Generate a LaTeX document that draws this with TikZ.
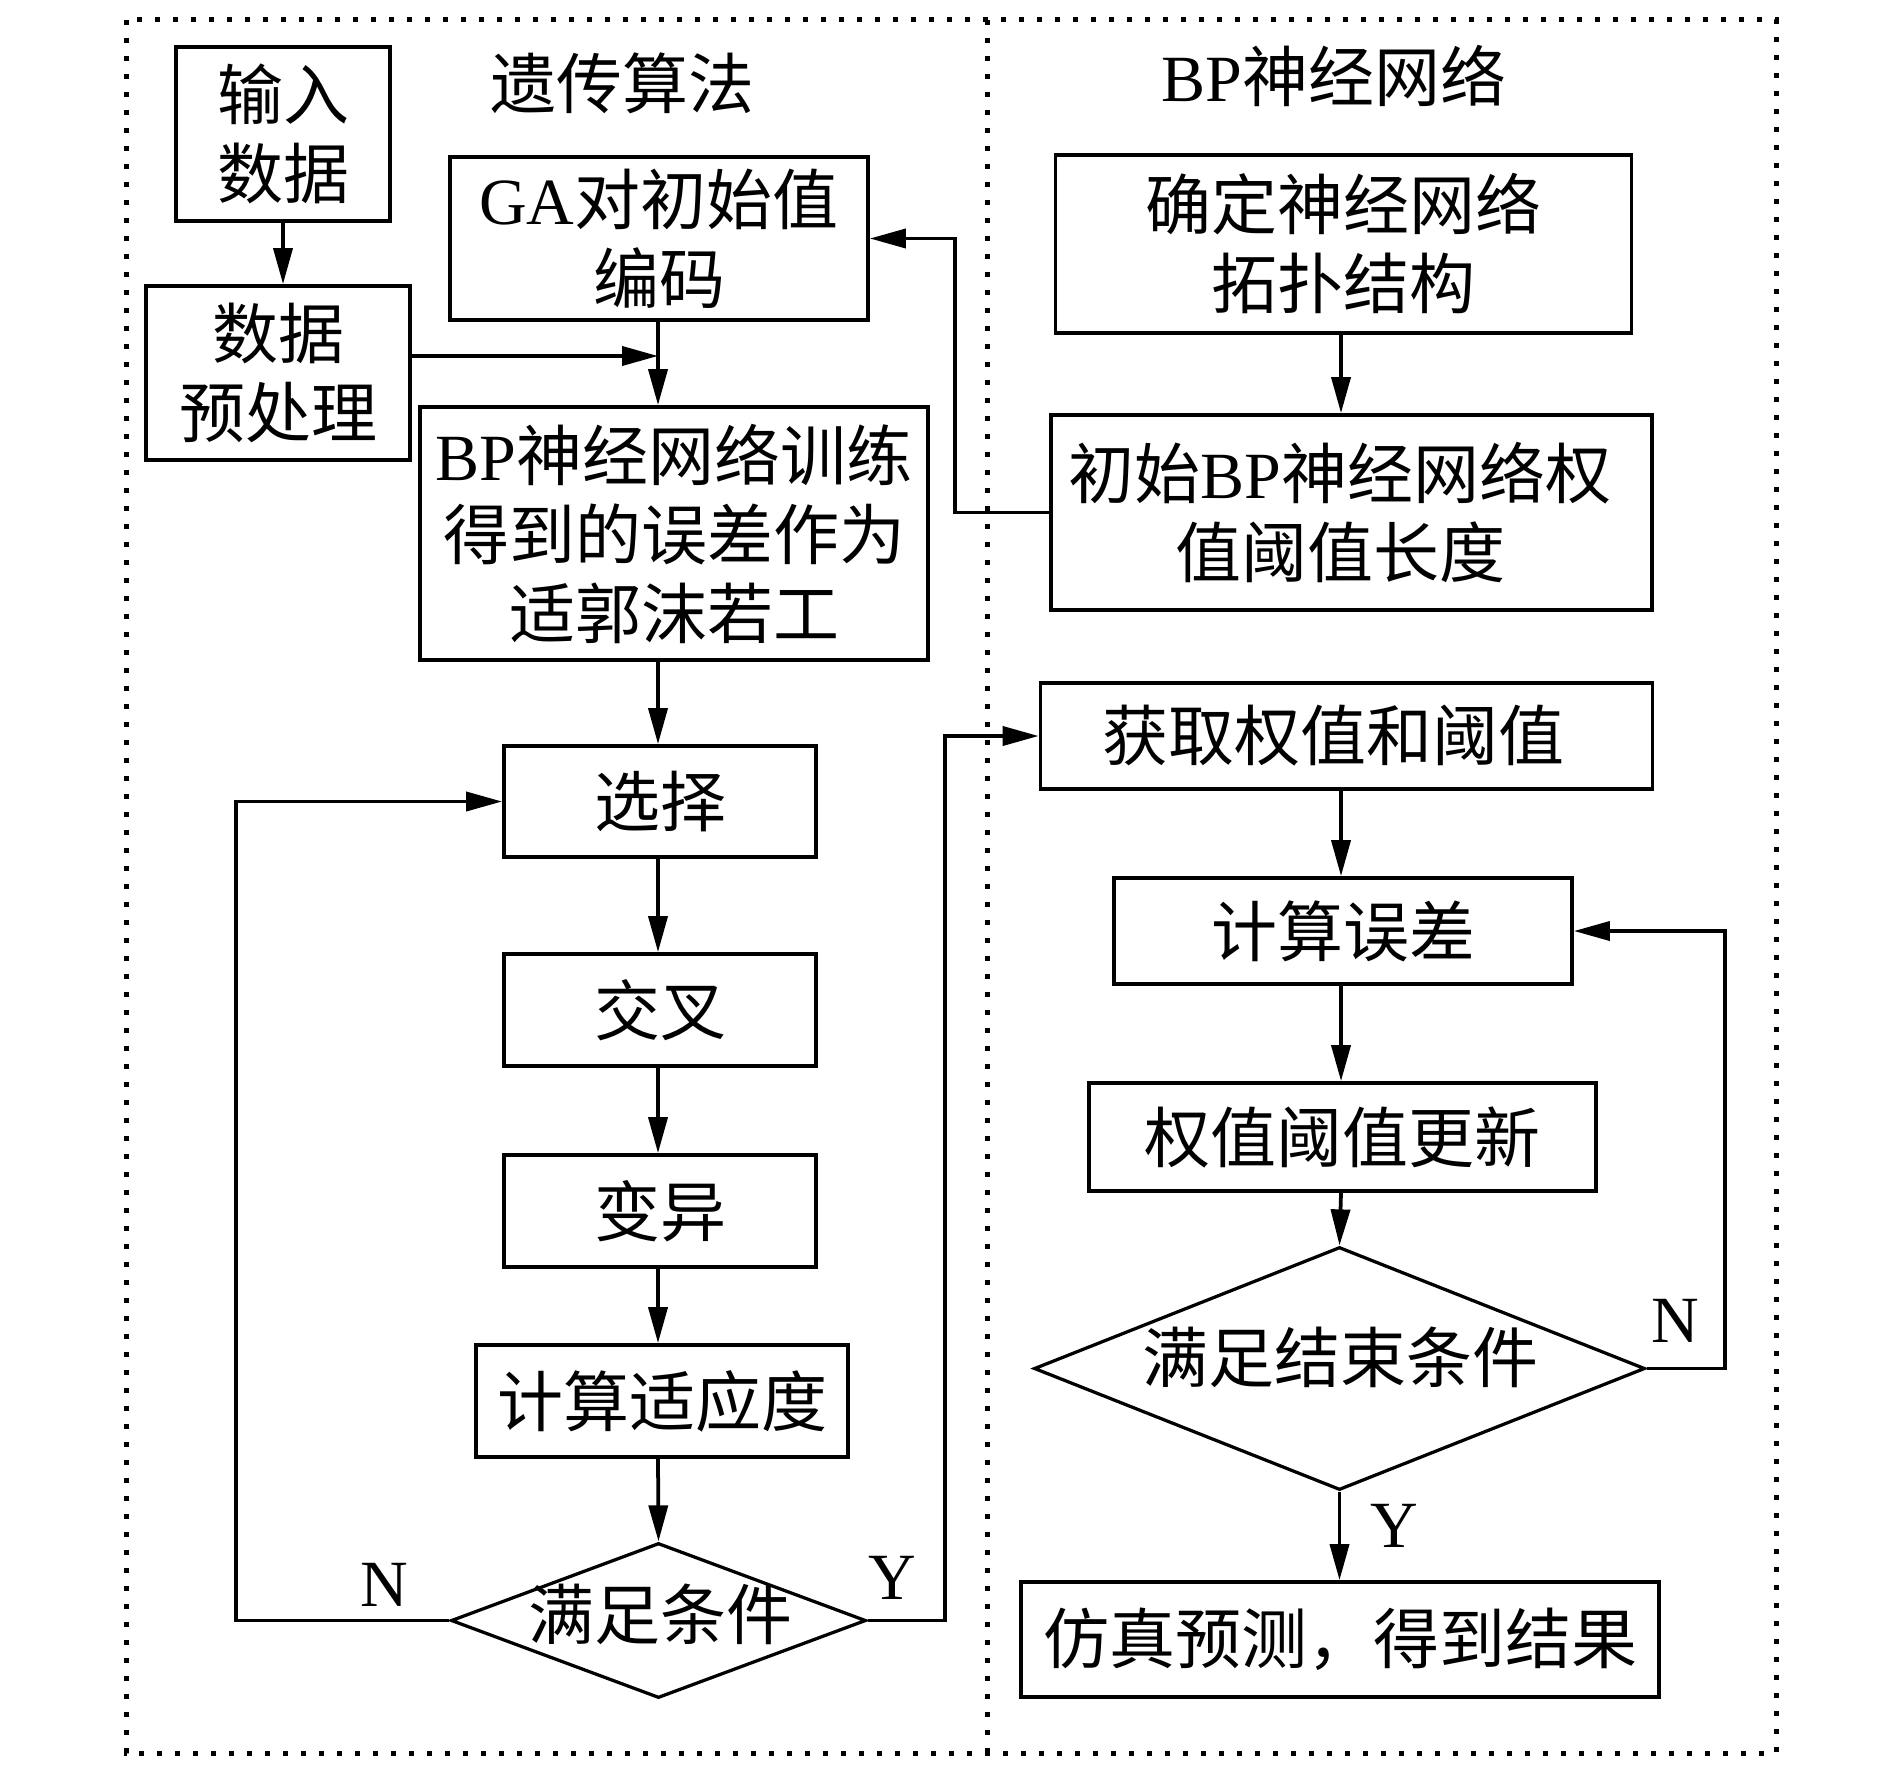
\documentclass[tikz,border=0pt]{standalone}
\usepackage{fontspec}
\setmainfont{Liberation Serif}
\newfontfamily\cjk{Noto Sans CJK SC}
\usetikzlibrary{arrows.meta,shapes.geometric}
\newcommand\latn[1]{{\rmfamily #1}}
\begin{document}
\begin{tikzpicture}[x=0.4pt,y=-0.4pt,
  every node/.style={font=\cjk\fontsize{26.4pt}{31.6pt}\selectfont, inner sep=0pt, align=center},
  box/.style={draw, line width=1.5pt, rectangle},
  dia/.style={draw, line width=1.3pt, diamond, inner sep=0pt},
  conn/.style={line width=1.5pt, -{Triangle[length=14.4pt,width=7.6pt]}},
  frame/.style={line width=2pt, dash pattern=on 2pt off 5.2pt},
  lbl/.style={font=\rmfamily\fontsize{26.4pt}{31.6pt}\selectfont}]
\useasboundingbox (0,0) rectangle (1890,1772);
\fill[white] (0,0) rectangle (1890,1772);

% frames
\draw[frame] (126,20) rectangle (1776,1753);
\draw[frame] (987,20) -- (987,1753);

% titles
\node (t1) at (622,83) {遗传算法};
\node (t2) at (1334,76) {\latn{BP}神经网络};

% left column
\node[box, minimum width=85.6pt, minimum height=69.6pt] (in) at (283,134) {输入\\数据};
\node[box, minimum width=105.6pt, minimum height=69.6pt] (pre) at (278,373) {数据\\预处理};
\node[box, minimum width=167.2pt, minimum height=65.2pt] (ga) at (659,238.5) {\latn{GA}对初始值\\编码};
\node[box, minimum width=203.2pt, minimum height=101.2pt] (bp) at (674,533.5) {\latn{BP}神经网络训练\\得到的误差作为\\适郭沫若工};
\node[box, minimum width=124.8pt, minimum height=44.4pt] (sel) at (660,801.5) {选择};
\node[box, minimum width=124.8pt, minimum height=44.8pt] (cross) at (660,1010) {交叉};
\node[box, minimum width=124.8pt, minimum height=44.8pt] (mut) at (660,1211) {变异};
\node[box, minimum width=148.8pt, minimum height=44.8pt] (fit) at (662,1401) {计算适应度};
\node[dia, minimum width=166pt, minimum height=62pt] (cond) at (658.5,1620.5) {};
\node (condt) at (660,1614) {满足条件};

% right column
\node[box, minimum width=230.4pt, minimum height=71.2pt] (topo) at (1343.5,244) {确定神经网络\\拓扑结构};
\node[box, minimum width=240.4pt, minimum height=78pt] (init) at (1351.5,512.5) {};
\node (initt) at (1340,512.5) {初始\latn{BP}神经网络权\\值阈值长度};
\node[box, minimum width=244.8pt, minimum height=42.4pt] (get) at (1346.5,736) {};
\node (gett) at (1333,736) {获取权值和阈值};
\node[box, minimum width=183.2pt, minimum height=42.4pt] (err) at (1343,931) {计算误差};
\node[box, minimum width=202.8pt, minimum height=43.2pt] (upd) at (1342.5,1137) {权值阈值更新};
\node[dia, minimum width=244.4pt, minimum height=97.2pt] (endc) at (1339.5,1368.5) {};
\node (endt) at (1340,1357) {满足结束条件};
\node[box, minimum width=255.2pt, minimum height=46pt] (sim) at (1340,1639.5) {仿真预测，得到结果};

% labels
\node[lbl] (n1) at (384,1585) {N};
\node[lbl] (y1) at (892,1578) {Y};
\node[lbl] (n2) at (1675,1321) {N};
\node[lbl] (y2) at (1394,1526) {Y};

% helper coordinates
\coordinate (colL) at (658,0);
\coordinate (colR) at (1341,0);
\coordinate (j1) at (658,356);
\coordinate (fbx) at (955,0);
\coordinate (nLx) at (236,0);
\coordinate (yRx) at (945,0);
\coordinate (nRx) at (1725,0);

% left connectors
\draw[conn] (in.south) -- (in.south |- pre.north);
\draw[conn] (pre.east |- j1) -- (j1);
\draw[conn] (colL |- ga.south) -- (colL |- bp.north);
\draw[conn] (colL |- bp.south) -- (colL |- sel.north);
\draw[conn] (colL |- sel.south) -- (colL |- cross.north);
\draw[conn] (colL |- cross.south) -- (colL |- mut.north);
\draw[conn] (colL |- mut.south) -- (colL |- fit.north);
\draw[conn] (colL |- fit.south) -- (cond.north);
\draw[conn] (cond.west) -- (cond.west -| nLx) |- (sel.west);
\draw[conn] (cond.east) -- (cond.east -| yRx) |- (get.west);
\draw[conn] (init.west) -- (init.west -| fbx) |- (ga.east);

% right connectors
\draw[conn] (colR |- topo.south) -- (colR |- init.north);
\draw[conn] (colR |- get.south) -- (colR |- err.north);
\draw[conn] (colR |- err.south) -- (colR |- upd.north);
\draw[conn] (colR |- upd.south) -- (endc.north);
\draw[conn] (endc.east) -- (endc.east -| nRx) |- (err.east);
\draw[conn] (endc.south) -- (endc.south |- sim.north);
\end{tikzpicture}
\end{document}
